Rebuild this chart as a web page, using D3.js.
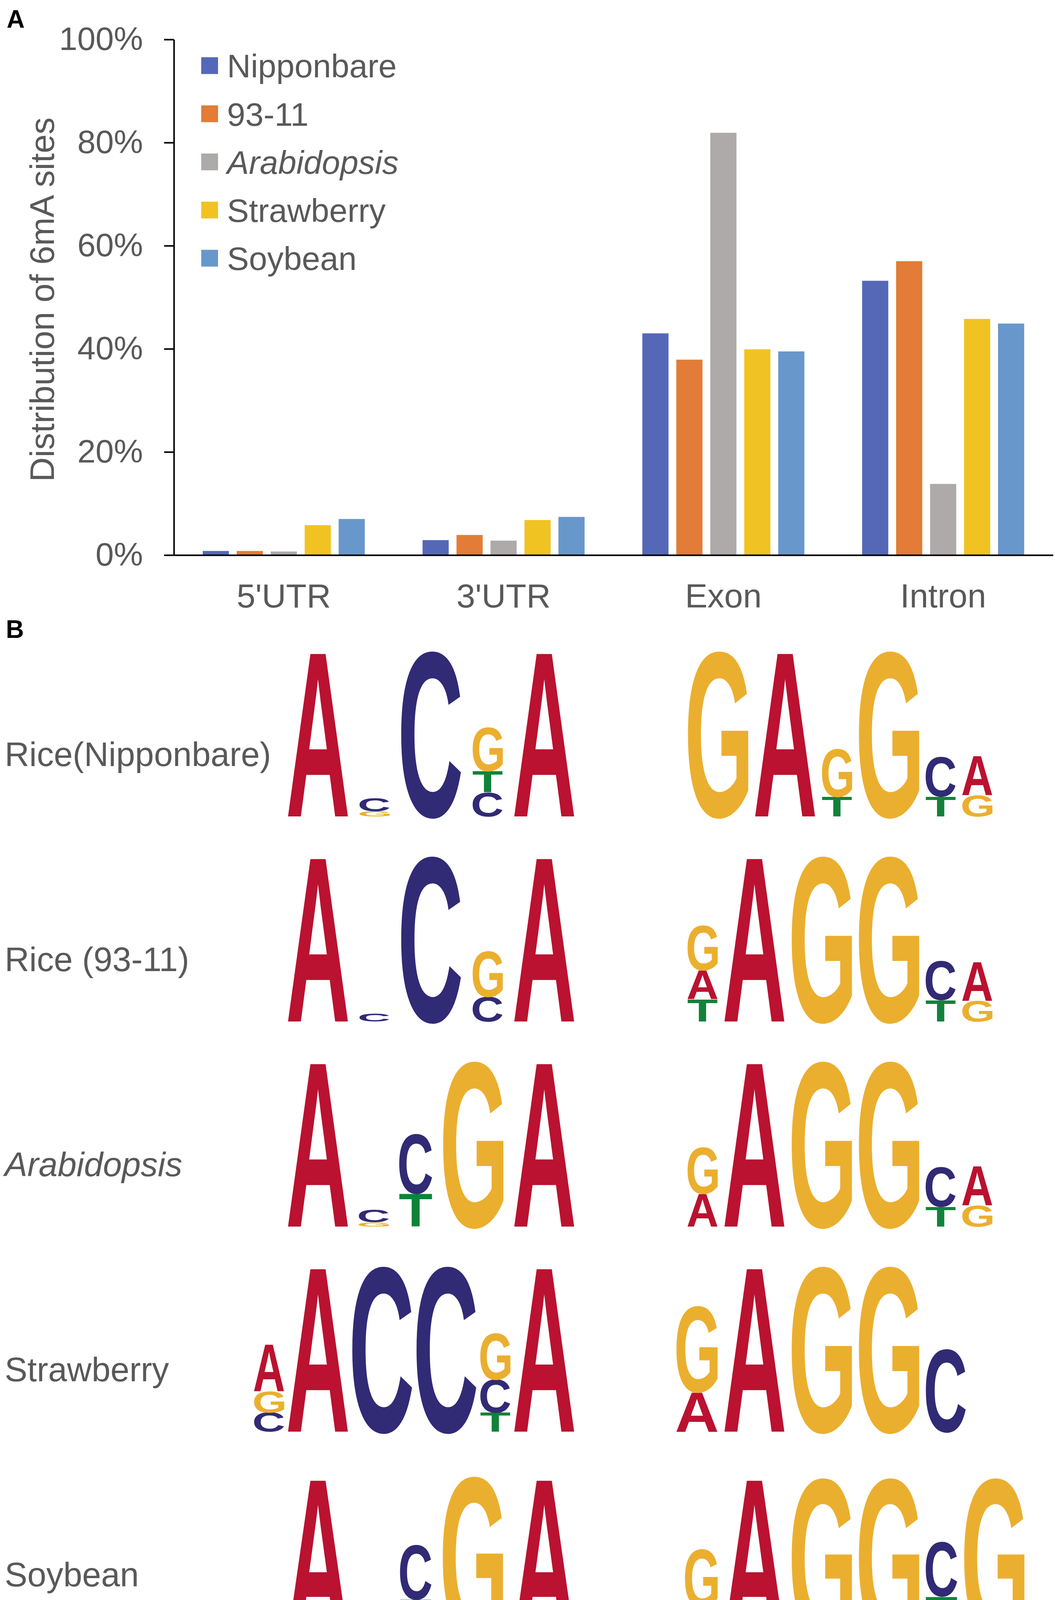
<!DOCTYPE html>
<html>
<head>
<meta charset="utf-8">
<script src="https://cdn.jsdelivr.net/npm/d3@7"></script>
<style>
html,body{margin:0;padding:0;background:#fff;overflow:hidden}
svg{display:block}
</style>
</head>
<body>
<svg id="fig" width="2700" height="4215"></svg>
<script>
// Panel A: distribution of 6mA sites over gene features
const categories = ["5'UTR", "3'UTR", 'Exon', 'Intron']
const species = ['Nipponbare', '93-11', 'Arabidopsis', 'Strawberry', 'Soybean']
const nipponbare = [0.8, 2.9, 43.0, 53.2]
const rice9311 = [0.8, 3.9, 37.9, 57.0]
const arabidopsis = [0.7, 2.8, 81.9, 13.8]
const strawberry = [5.8, 6.8, 39.9, 45.8]
const soybean = [7.0, 7.4, 39.5, 44.9]
const yTicks = [0, 20, 40, 60, 80, 100]

// Panel B: motif logos, each column listed bottom -> top as [base, relative height]
const rowLabels = ['Rice(Nipponbare)', 'Rice (93-11)', 'Arabidopsis', 'Strawberry', 'Soybean']
const nipponbareLeft = [
	[['A', 1]],
	[['G', 0.03], ['C', 0.08]],
	[['C', 1]],
	[['C', 0.145], ['T', 0.13], ['G', 0.265]],
	[['A', 1]]
]
const nipponbareRight = [
	[['G', 1]],
	[['A', 1]],
	[['T', 0.12], ['G', 0.29]],
	[['G', 1]],
	[['T', 0.12], ['C', 0.24]],
	[['G', 0.13], ['A', 0.24]]
]
const r9311Left = [
	[['A', 1]],
	[['C', 0.05]],
	[['C', 1]],
	[['C', 0.15], ['G', 0.275]],
	[['A', 1]]
]
const r9311Right = [
	[['T', 0.135], ['A', 0.175], ['G', 0.27]],
	[['A', 1]],
	[['G', 1]],
	[['G', 1]],
	[['T', 0.13], ['C', 0.235]],
	[['G', 0.125], ['A', 0.235]]
]
const arabidopsisLeft = [
	[['A', 1]],
	[['G', 0.025], ['C', 0.075]],
	[['T', 0.2], ['C', 0.36]],
	[['G', 1]],
	[['A', 1]]
]
const arabidopsisRight = [
	[['A', 0.2], ['G', 0.28]],
	[['A', 1]],
	[['G', 1]],
	[['G', 1]],
	[['T', 0.12], ['C', 0.24]],
	[['G', 0.13], ['A', 0.24]]
]
const strawberryLeft = [
	[['C', 0.115], ['G', 0.13], ['A', 0.285]],
	[['A', 1]],
	[['C', 1]],
	[['C', 1]],
	[['T', 0.115], ['C', 0.2], ['G', 0.28]],
	[['A', 1]]
]
const strawberryRight = [
	[['A', 0.24], ['G', 0.52]],
	[['A', 1]],
	[['G', 1]],
	[['G', 1]],
	[['C', 0.5]]
]
const soybeanLeft = [
	[['A', 0.96]],
	[],
	[['A', 0.037], ['T', 0.19], ['C', 0.33]],
	[['G', 0.97]],
	[['A', 0.96]]
]
const soybeanRight = [
	[['T', 0.18], ['G', 0.35]],
	[['A', 0.96]],
	[['G', 0.96]],
	[['G', 0.96]],
	[['G', 0.06], ['T', 0.185], ['C', 0.33]],
	[['G', 0.96]]
]

const barColors = ['#5568B8', '#E27C37', '#ADAAA9', '#F0C322', '#6897CB']
const baseColors = {A: '#BA1230', C: '#312A75', G: '#EBAF2F', T: '#11823A'}
const textColor = '#595959'
const sans = "'Liberation Sans', Arial, sans-serif"

const svg = d3.select('#fig')
svg.append('rect').attr('width', 2700).attr('height', 4215).attr('fill', '#fff')

// ---------- panel A ----------
const plot = {left: 445, right: 2695, top: 101, bottom: 1421}
const seriesValues = [nipponbare, rice9311, arabidopsis, strawberry, soybean]

const x0 = d3.scaleBand().domain(categories).range([plot.left, plot.right])
const x1 = d3.scaleBand().domain(species).range([0, x0.bandwidth()])
	.paddingInner(0.23).paddingOuter(0.85)
const y = d3.scaleLinear().domain([0, 100]).range([plot.bottom, plot.top])

svg.append('text').text('A')
	.attr('x', 17).attr('y', 71)
	.attr('font-family', sans).attr('font-weight', 'bold').attr('font-size', 64)

const barData = []
species.forEach((sp, j) => {
	categories.forEach((cat, i) => {
		barData.push({cat: cat, sp: sp, v: seriesValues[j][i], color: barColors[j]})
	})
})

svg.append('g').selectAll('rect').data(barData).enter().append('rect')
	.attr('x', d => x0(d.cat) + x1(d.sp))
	.attr('y', d => y(d.v))
	.attr('width', x1.bandwidth())
	.attr('height', d => y(0) - y(d.v))
	.attr('fill', d => d.color)

const yAxis = svg.append('g')
	.attr('transform', 'translate(' + plot.left + ',0)')
	.call(d3.axisLeft(y).tickValues(yTicks).tickFormat(d => d + '%')
		.tickSize(25).tickSizeOuter(0).tickPadding(54))
yAxis.select('.domain').attr('stroke', '#000').attr('stroke-width', 4)
yAxis.selectAll('.tick line').attr('stroke', '#000').attr('stroke-width', 4)
yAxis.selectAll('.tick text')
	.attr('font-family', sans).attr('font-size', 84).attr('fill', textColor)

const xAxis = svg.append('g')
	.attr('transform', 'translate(0,' + y(0) + ')')
	.call(d3.axisBottom(x0).tickSize(0).tickSizeOuter(0).tickPadding(73))
xAxis.select('.domain').attr('stroke', '#000').attr('stroke-width', 4)
xAxis.selectAll('.tick text')
	.attr('font-family', sans).attr('font-size', 86).attr('fill', textColor)

svg.append('text').text('Distribution of 6mA sites')
	.attr('transform', 'translate(138,767) rotate(-90)')
	.attr('text-anchor', 'middle')
	.attr('font-family', sans).attr('font-size', 87).attr('fill', textColor)

const legendY = d3.scalePoint().domain(species).range([168, 661])
const legend = svg.append('g').selectAll('g').data(species).enter().append('g')
	.attr('transform', d => 'translate(515,' + legendY(d) + ')')
legend.append('rect')
	.attr('x', 0).attr('y', -21.5).attr('width', 43).attr('height', 43)
	.attr('fill', (d, i) => barColors[i])
legend.append('text').text(d => d)
	.attr('x', 66).attr('dy', '0.36em')
	.attr('font-family', sans).attr('font-size', 84).attr('fill', textColor)
	.attr('font-style', d => d === 'Arabidopsis' ? 'italic' : 'normal')

// ---------- panel B ----------
svg.append('text').text('B')
	.attr('x', 15).attr('y', 1633)
	.attr('font-family', sans).attr('font-weight', 'bold').attr('font-size', 64)

const logos = [
	[nipponbareLeft, nipponbareRight],
	[r9311Left, r9311Right],
	[arabidopsisLeft, arabidopsisRight],
	[strawberryLeft, strawberryRight],
	[soybeanLeft, soybeanRight]
]

const rowBase = d3.scalePoint().domain(rowLabels).range([2090, 4190])
const letterH = d3.scaleLinear().domain([0, 1]).range([0, 425])
const fullW = 157

// tight glyph bounds (per 1px of font size), so a letter can be stretched into its box
const ctx = document.createElement('canvas').getContext('2d')
ctx.font = "bold 1000px 'Liberation Sans'"
const glyph = {}
'ACGT'.split('').forEach(L => {
	const m = ctx.measureText(L)
	glyph[L] = {l: m.actualBoundingBoxLeft / 1000, r: m.actualBoundingBoxRight / 1000}
})
const capH = ctx.measureText('T').actualBoundingBoxAscent / 1000

function colMax(col) {
	return col.length ? d3.max(col, d => d[1]) : 0
}
function colWidth(col) {
	const f = 0.5 + 0.5 * Math.max(0, Math.min(1, (colMax(col) - 0.3) / 0.6))
	return fullW * f
}
// place columns: anchor column i0 starts at xa, gap either fixed or fitted to reach i1 at xb
function layout(cols, i0, xa, gap, i1, xb) {
	const w = cols.map(colWidth)
	if (i1 !== undefined) {
		gap = (xb - xa - d3.sum(w.slice(i0, i1))) / (i1 - i0)
	}
	const xs = []
	xs[i0] = xa
	for (let i = i0 + 1; i < cols.length; i++) xs[i] = xs[i - 1] + w[i - 1] + gap
	for (let i = i0 - 1; i >= 0; i--) xs[i] = xs[i + 1] - gap - w[i]
	return cols.map((c, i) => ({col: c, x: xs[i], w: w[i]}))
}

svg.append('g').selectAll('text').data(rowLabels).enter().append('text')
	.text(d => d)
	.attr('x', 12).attr('y', d => rowBase(d) - 129)
	.attr('font-family', sans).attr('font-size', 87).attr('fill', textColor)
	.attr('font-style', d => d === 'Arabidopsis' ? 'italic' : 'normal')

const letters = []
logos.forEach((pair, r) => {
	const base = rowBase(rowLabels[r])
	const left = pair[0]
	const first = left.findIndex(c => colMax(c) >= 0.9)
	const placed = layout(left, first, 735, 0, left.length - 1, 1314)
		.concat(layout(pair[1], 3, 2196, 15))
	placed.forEach(p => {
		let cum = 0
		p.col.forEach(([L, h]) => {
			letters.push({L: L, x: p.x, w: p.w, bottom: base - letterH(cum), h: letterH(h)})
			cum += h
		})
	})
})

svg.append('g').selectAll('text').data(letters).enter().append('text')
	.text(d => d.L)
	.attr('font-family', "'Liberation Sans', Arial, sans-serif")
	.attr('font-weight', 'bold')
	.attr('font-size', d => d.h / capH)
	.attr('fill', d => baseColors[d.L])
	.attr('transform', d => {
		const g = glyph[d.L]
		const fs = d.h / capH
		const sx = d.w / ((g.l + g.r) * fs)
		return 'translate(' + (d.x + g.l * fs * sx) + ',' + d.bottom + ') scale(' + sx + ',1)'
	})
</script>
</body>
</html>
